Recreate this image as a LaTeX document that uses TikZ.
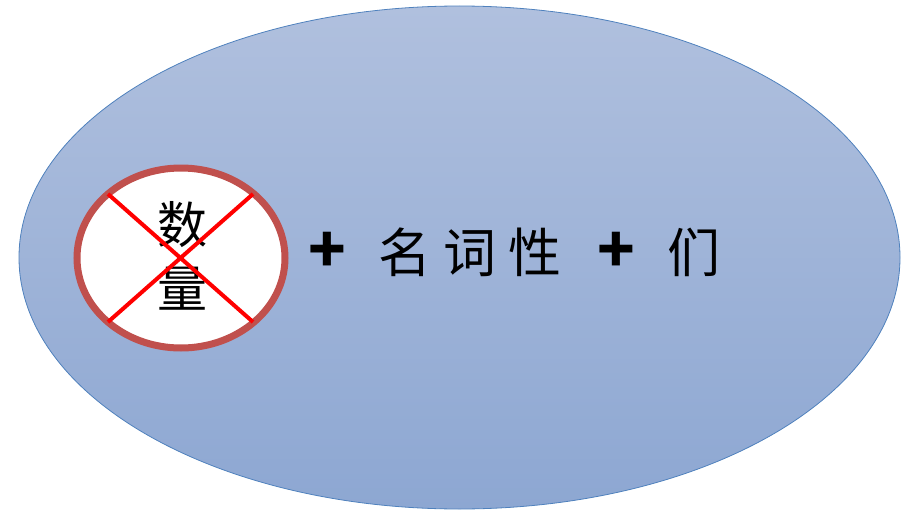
\documentclass[tikz,border=0pt]{standalone}
\usepackage{fontspec}
\newfontfamily\cjk{Noto Sans CJK SC}
\definecolor{ovtop}{RGB}{176,192,222}
\definecolor{ovbot}{RGB}{141,167,210}
\definecolor{ovline}{RGB}{79,129,189}
\definecolor{ringred}{RGB}{192,80,77}
\definecolor{xred}{RGB}{255,0,0}
\newcommand{\plusbox}{\makebox[30pt][c]{\bfseries\fontsize{62}{60}\selectfont +}}
\tikzset{
  bigoval/.style={draw=ovline, line width=0.8pt, top color=ovtop, bottom color=ovbot},
  ring/.style={draw=ringred, line width=7pt, fill=white},
  crossline/.style={draw=xred, line width=4pt},
  bigtext/.style={font=\cjk\fontsize{53}{60}\selectfont, inner sep=0pt},
  ringtext/.style={font=\cjk\fontsize{50}{64}\selectfont, align=center, inner sep=0pt}
}
\begin{document}
\begin{tikzpicture}[x=1pt,y=-1pt]
  \useasboundingbox (0,0) rectangle (902,511);
  \path[bigoval] (459.5,257.5) ellipse [x radius=440.5, y radius=251.5];
  \path[ring] (181,258) ellipse [x radius=104, y radius=90];
  \node[ringtext] (shu) at (182,256) {数\\量};
  \coordinate (xa) at (108,194);
  \coordinate (xb) at (253,322);
  \coordinate (xc) at (108,322);
  \coordinate (xd) at (253,194);
  \draw[crossline] (xa) -- (xb);
  \draw[crossline] (xc) -- (xd);
  \node[bigtext, anchor=west] (formula) at (312,252)
    {\plusbox\hspace{36.5pt}名\hspace{12pt}词\hspace{12pt}性\hspace{39.5pt}\plusbox\hspace{36.5pt}们};
\end{tikzpicture}
\end{document}
